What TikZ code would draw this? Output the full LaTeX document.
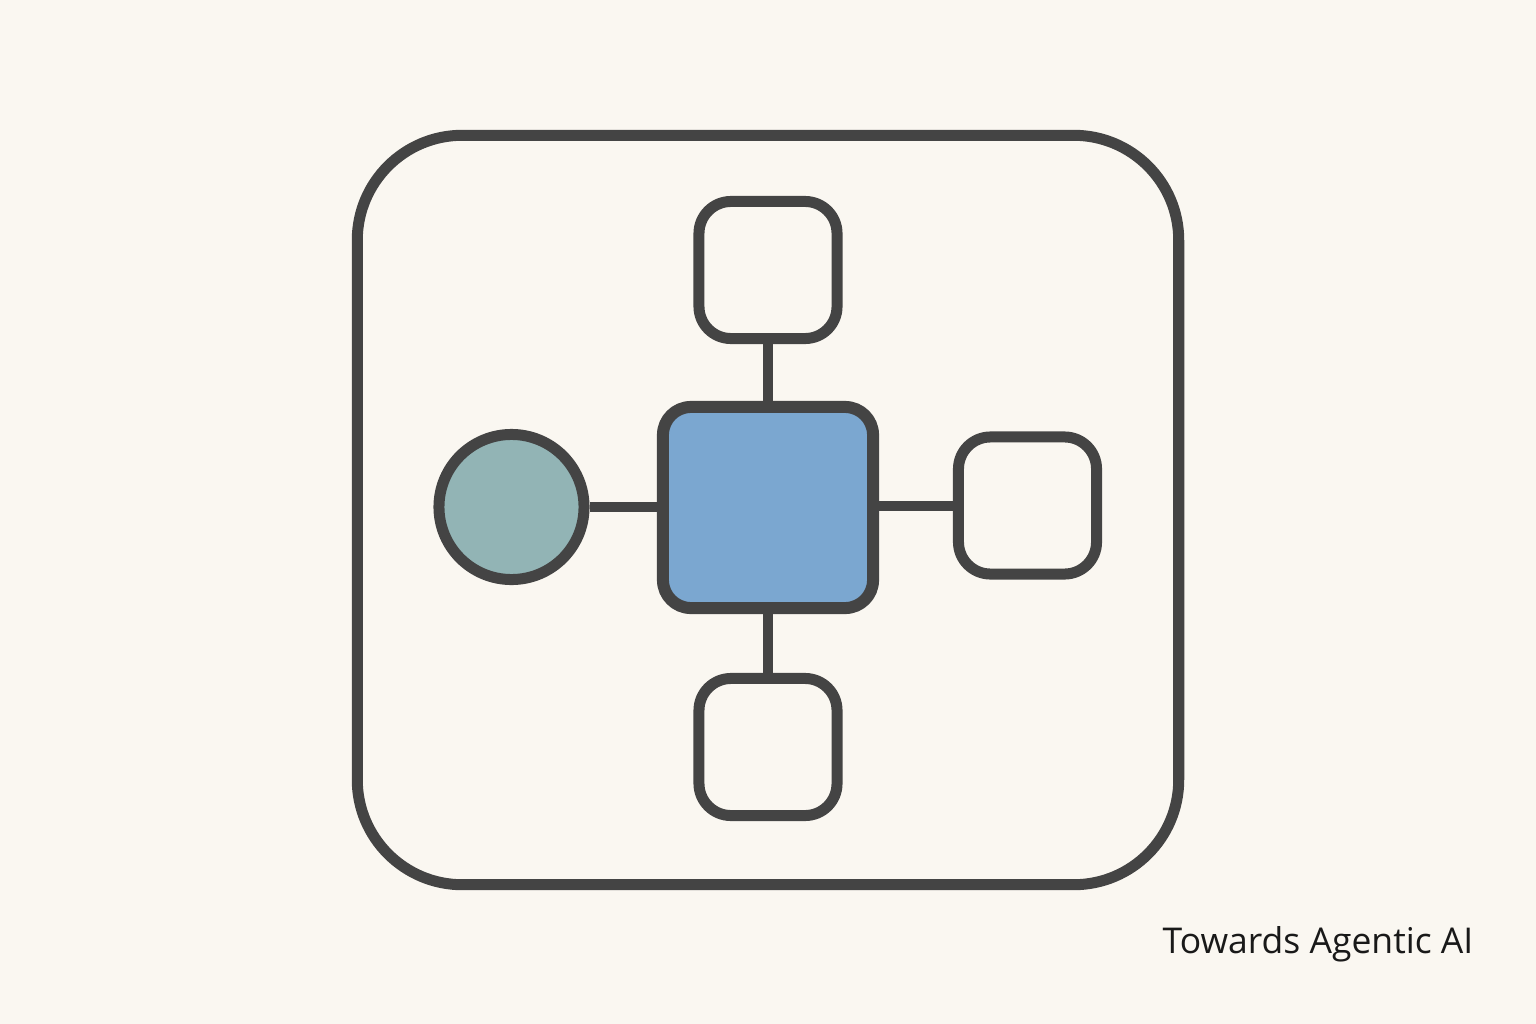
\documentclass[tikz,border=0pt]{standalone}
\usepackage{fontspec}
\setmainfont{Open Sans}
\definecolor{bg}{HTML}{FAF7F1}
\definecolor{ink}{HTML}{444444}
\definecolor{hub}{HTML}{7BA7D0}
\definecolor{agent}{HTML}{92B4B5}
\begin{document}
\begin{tikzpicture}[x=0.01cm,y=-0.01cm,
  frame/.style={draw=ink,line width=0.11cm,rounded corners=1.05cm,minimum width=8.21cm,minimum height=7.49cm,inner sep=0pt},
  toolbox/.style={draw=ink,line width=0.11cm,rounded corners=0.32cm,fill=bg,inner sep=0pt,minimum width=1.38cm,minimum height=1.37cm},
  hubbox/.style={draw=ink,line width=0.12cm,rounded corners=0.28cm,fill=hub,inner sep=0pt,minimum width=2.10cm,minimum height=2.01cm},
  agentnode/.style={draw=ink,line width=0.11cm,circle,fill=agent,inner sep=0pt,minimum size=1.45cm},
  link/.style={draw=ink,line width=0.10cm}]
\fill[bg] (0,0) rectangle (1536,1024);
\useasboundingbox (0,0) rectangle (1536,1024);
\node[frame] (outer) at (768,510) {};
\node[hubbox] (hub) at (768,507.5) {};
\node[toolbox] (top) at (768,270) {};
\node[toolbox] (bottom) at (768,747) {};
\node[toolbox] (right) at (1027.5,505.5) {};
\node[agentnode] (agent) at (511.5,507) {};
\draw[link] (top.south) -- (hub.north);
\draw[link] (hub.south) -- (bottom.north);
\draw[link] (agent.east) -- (agent.east -| hub.west);
\draw[link] (hub.east |- right.west) -- (right.west);
\node[anchor=base east,inner sep=0pt,font=\fontsize{10.1pt}{12pt}\selectfont,text=black!90] (label) at (1474,953) {Towards Agentic AI};
\end{tikzpicture}
\end{document}
